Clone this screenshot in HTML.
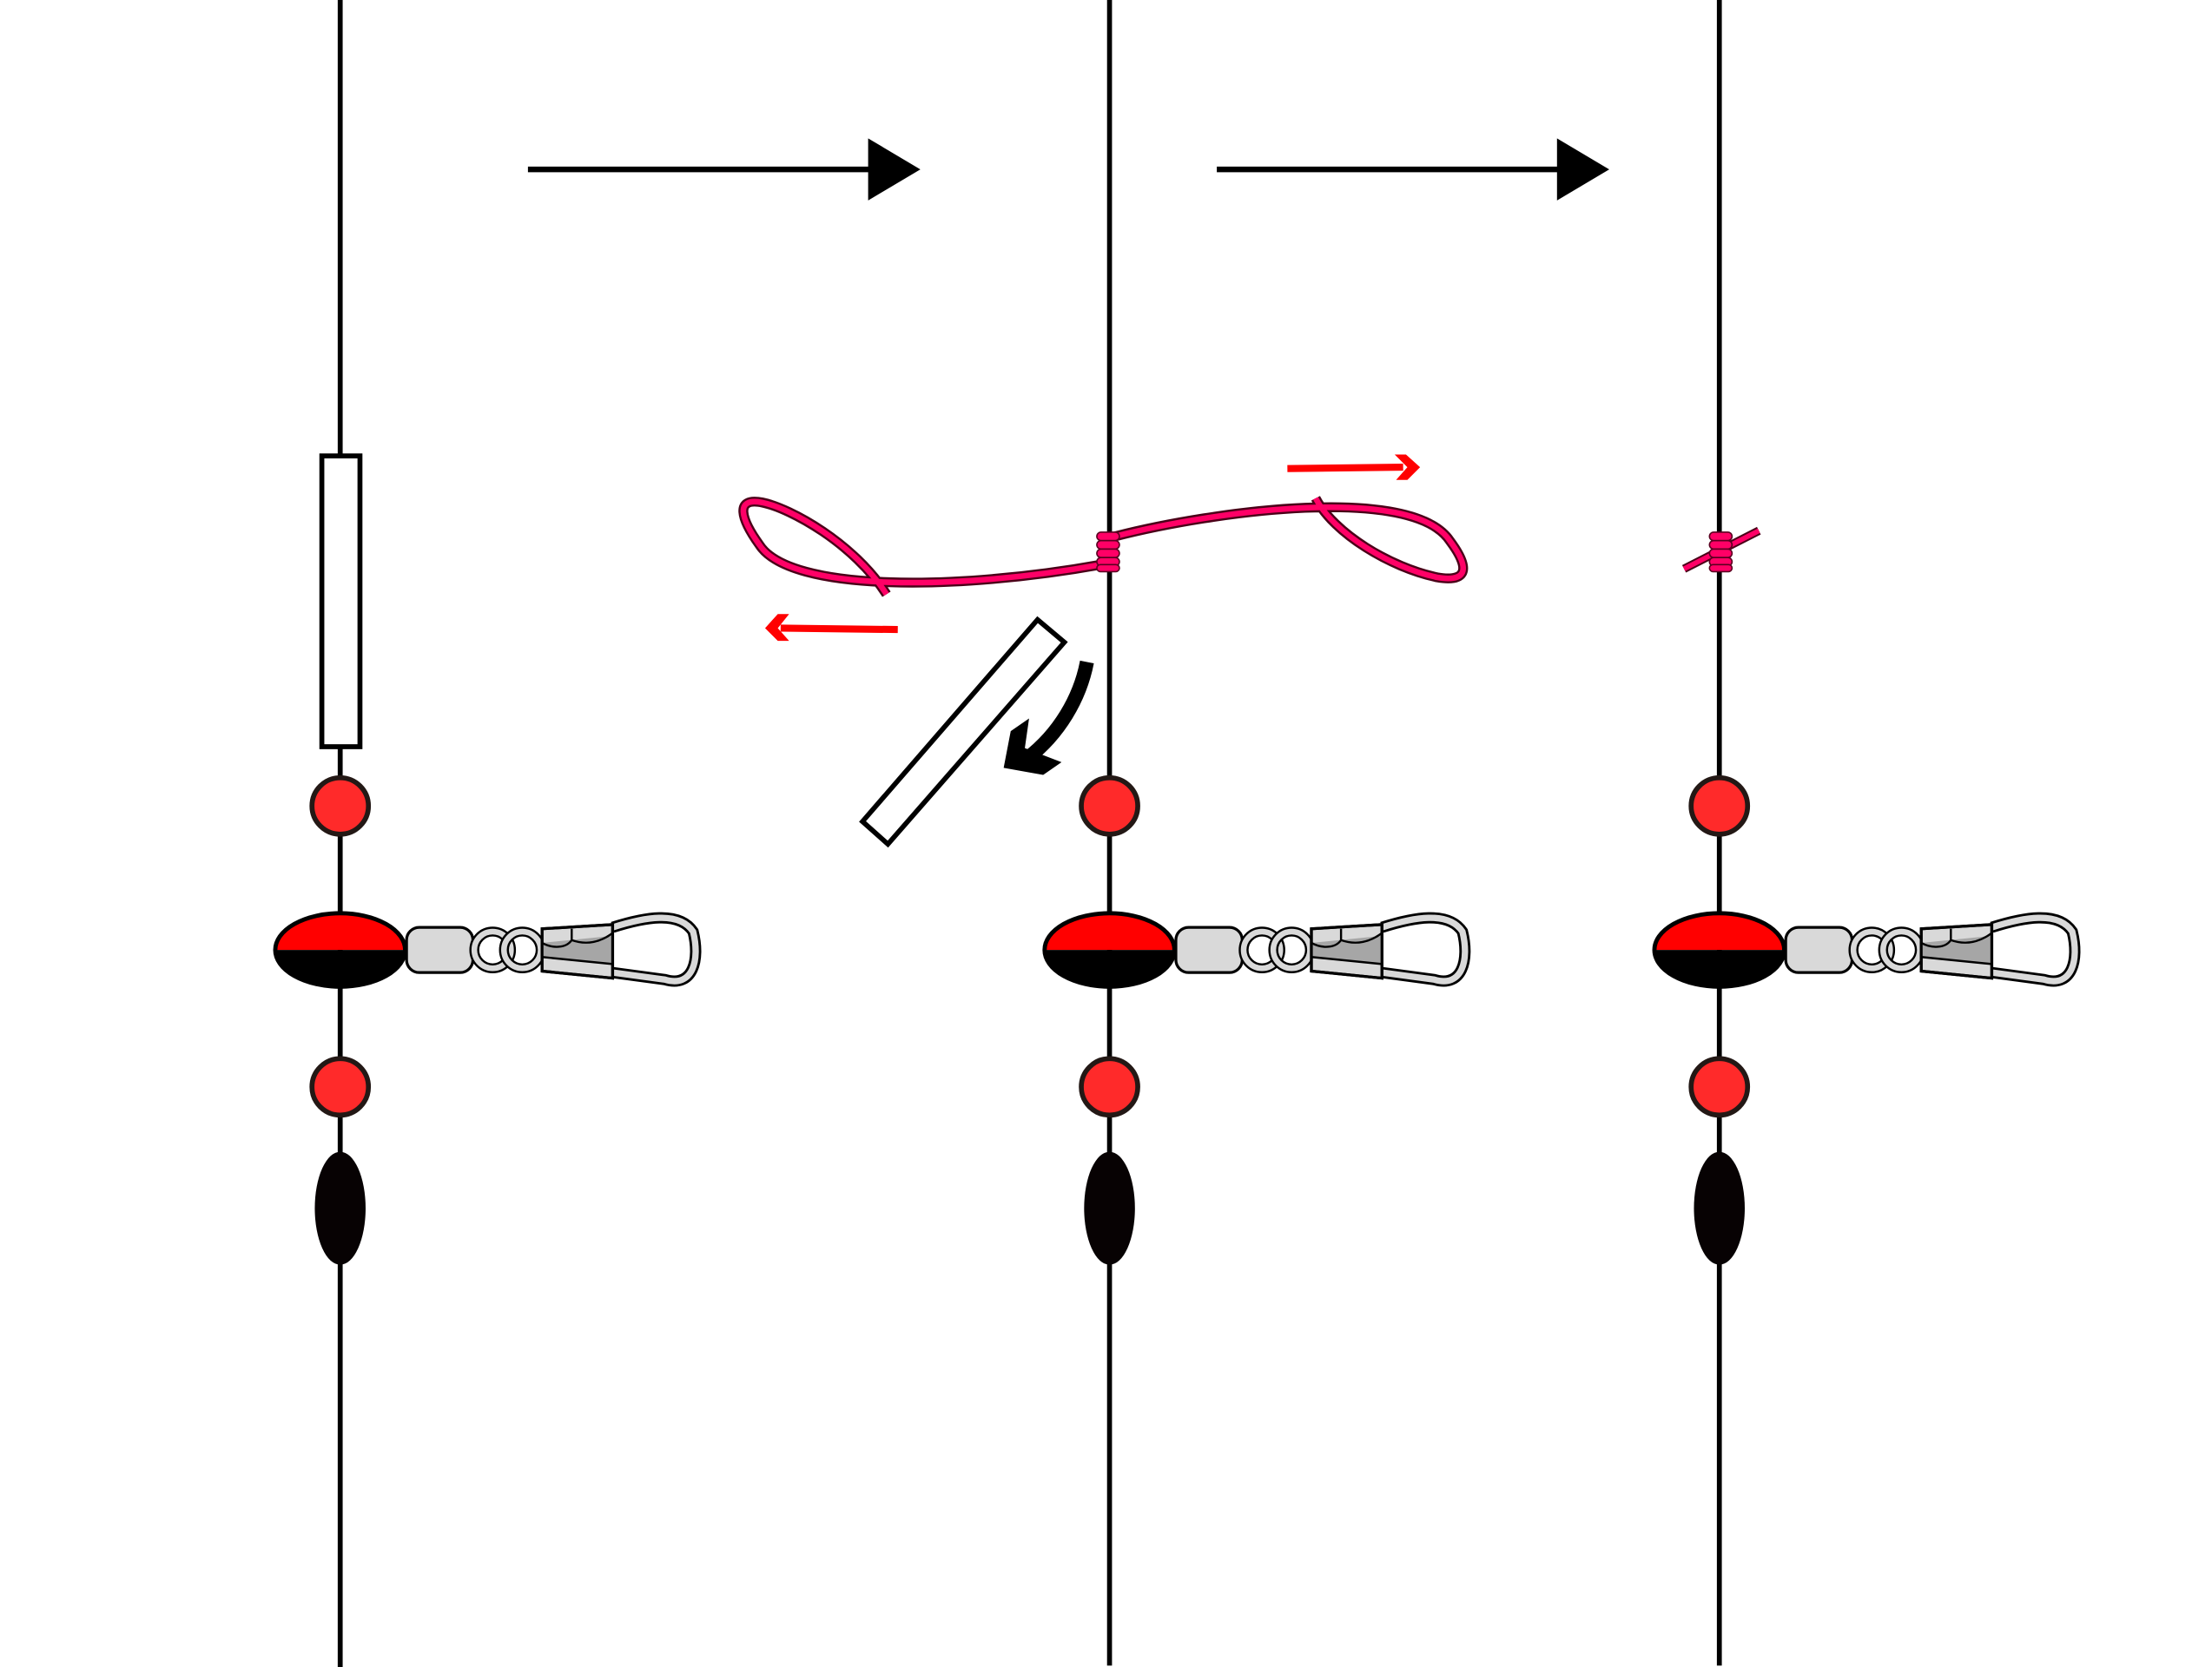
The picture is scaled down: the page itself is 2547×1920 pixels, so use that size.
<!DOCTYPE html>
<html><head><meta charset="utf-8"><style>html,body{margin:0;padding:0;background:#fff}svg{display:block}</style></head>
<body>
<svg width="2547" height="1920" viewBox="0 0 1567 1181" preserveAspectRatio="none" xmlns="http://www.w3.org/2000/svg">
<defs>
<g id="rig">
  <circle cx="0" cy="571" r="20" fill="#ff2a2a" stroke="#231815" stroke-width="3.5"/>
  <path d="M-46 673 A46 26 0 0 1 46 673 Z" fill="#ff0000"/>
  <path d="M-46 673 A46 26 0 0 0 46 673 Z" fill="#000"/>
  <ellipse cx="0" cy="673" rx="46" ry="26" fill="none" stroke="#000" stroke-width="3"/>
  <rect x="47" y="657" width="47" height="32" rx="9" fill="#d9d9d9" stroke="#000" stroke-width="2"/>
  <circle cx="108" cy="673" r="13" fill="none" stroke="#000" stroke-width="7"/>
  <circle cx="108" cy="673" r="13" fill="none" stroke="#d9d9d9" stroke-width="4"/>
  <circle cx="129" cy="673" r="13" fill="none" stroke="#000" stroke-width="7"/>
  <circle cx="129" cy="673" r="13" fill="none" stroke="#d9d9d9" stroke-width="4"/>
  <path d="M193 657 C215 650 240 645 250 660 C255 680 250 700 230 694 L193 689" fill="none" stroke="#000" stroke-width="8"/>
  <path d="M193 657 C215 650 240 645 250 660 C255 680 250 700 230 694 L193 689" fill="none" stroke="#d9d9d9" stroke-width="4.5"/>
  <polygon points="143,658 193,655 193,693 143,688" fill="#d9d9d9" stroke="#000" stroke-width="2"/>
  <polygon points="143,668 193,663 193,683 143,678" fill="#a6a6a6"/>
  <path d="M143 668 C150 672 160 672 164 666 L164 658 M164 666 C175 670 185 667 193 661 M143 678 L193 683" fill="none" stroke="#000" stroke-width="1.5"/>
  <polygon points="143,658 193,655 193,693 143,688" fill="none" stroke="#000" stroke-width="2"/>
  <circle cx="0" cy="770" r="20" fill="#ff2a2a" stroke="#231815" stroke-width="3.5"/>
  <ellipse cx="0" cy="856" rx="18" ry="40" fill="#070203"/>
</g>
<g id="coil">
  <rect x="-8" y="377" width="16" height="6" rx="3" fill="#ff0066" stroke="#5a0020" stroke-width="1"/>
  <rect x="-8" y="383" width="16" height="6" rx="3" fill="#ff0066" stroke="#5a0020" stroke-width="1"/>
  <rect x="-8" y="389" width="16" height="6" rx="3" fill="#ff0066" stroke="#5a0020" stroke-width="1"/>
  <rect x="-8" y="395" width="16" height="6" rx="3" fill="#ff0066" stroke="#5a0020" stroke-width="1"/>
  <rect x="-8" y="400" width="16" height="5" rx="2.5" fill="#ff0066" stroke="#5a0020" stroke-width="1"/>
</g>
</defs>

<line x1="241" y1="0" x2="241" y2="1182" stroke="#000" stroke-width="3.5"/>
<line x1="786" y1="0" x2="786" y2="1180" stroke="#000" stroke-width="3.5"/>
<line x1="1218" y1="0" x2="1218" y2="1180" stroke="#000" stroke-width="3.5"/>

<line x1="374" y1="120" x2="618" y2="120" stroke="#000" stroke-width="4"/>
<polygon points="615,98 652,120 615,142" fill="#000"/>
<line x1="862" y1="120" x2="1106" y2="120" stroke="#000" stroke-width="4"/>
<polygon points="1103,98 1140,120 1103,142" fill="#000"/>

<rect x="228" y="323" width="27" height="206" fill="#fff" stroke="#000" stroke-width="3.5"/>

<use href="#rig" x="241"/>
<use href="#rig" x="786"/>
<use href="#rig" x="1218"/>

<g fill="none" stroke-linecap="butt">
<path d="M628 421 C605 385 560 360 540 356 C520 352 525 368 538 386 C560 420 680 418 780 400 M790 380 C860 362 1000 343 1027 383 C1045 407 1035 412 1018 409 C985 402 945 378 932 353" stroke="#4a0018" stroke-width="7"/>
<path d="M628 421 C605 385 560 360 540 356 C520 352 525 368 538 386 C560 420 680 418 780 400 M790 380 C860 362 1000 343 1027 383 C1045 407 1035 412 1018 409 C985 402 945 378 932 353" stroke="#ff0066" stroke-width="4"/>
</g>
<use href="#coil" x="785"/>

<line x1="912" y1="332" x2="994" y2="331" stroke="#ff0000" stroke-width="5"/>
<polygon points="988,322 996,322 1006,331 997,340 989,340 997,331" fill="#ff0000"/>
<line x1="636" y1="446" x2="553" y2="445" stroke="#ff0000" stroke-width="5"/>
<polygon points="551,435 559,435 551,445 559,454 551,454 542,445" fill="#ff0000"/>

<polygon points="735,439 754,455 629,598 611,582" fill="#fff" stroke="#000" stroke-width="3.5"/>

<path d="M770 469 C765 495 750 520 728 537" fill="none" stroke="#000" stroke-width="10"/>
<polygon points="716,518 729,509 726,530 752,540 739,549 711,544" fill="#000"/>

<line x1="1193" y1="403" x2="1246" y2="376" stroke="#4a0018" stroke-width="6"/>
<line x1="1193" y1="403" x2="1246" y2="376" stroke="#ff0066" stroke-width="3.5"/>
<use href="#coil" x="1219"/>
</svg>
</body></html>
